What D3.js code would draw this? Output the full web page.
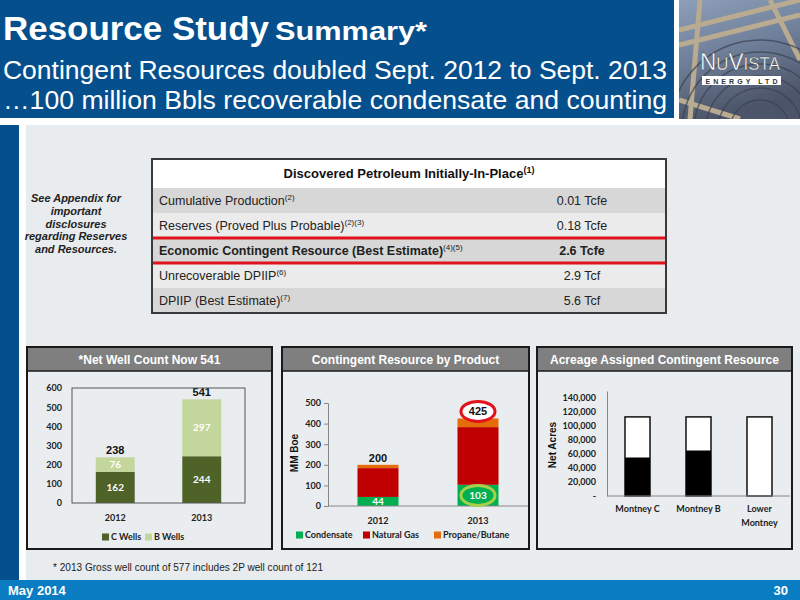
<!DOCTYPE html>
<html><head><meta charset="utf-8">
<script src="https://cdn.jsdelivr.net/npm/d3@7/dist/d3.min.js"></script>
<style>body{margin:0;padding:0;overflow:hidden;background:#fff} svg{display:block}</style>
</head><body><svg id="c" width="800" height="600"></svg>
<script>
// ---------- data ----------
const years = ["2012", "2013"];
const cWells = [162, 244];
const bWells = [76, 297];
const wellTotals = [238, 541];
const wellTicks = [0, 100, 200, 300, 400, 500, 600];

const productNames = ["Condensate", "Natural Gas", "Propane/Butane"];
const condensate = [44, 103];
const naturalGas = [140, 280];
const propaneButane = [16, 42];
const productTotals = [200, 425];
const productTicks = [0, 100, 200, 300, 400, 500];

const plays = ["Montney C", "Montney B", "Lower Montney"];
const playLabelLines = [["Montney C"], ["Montney B"], ["Lower", "Montney"]];
const totalAcres = [113000, 113000, 113000];
const assignedAcres = [55000, 65000, 0];
const acreTicks = [0, 20000, 40000, 60000, 80000, 100000, 120000, 140000];

const tableTitle = "Discovered Petroleum Initially-In-Place";
const tableTitleNote = "(1)";
const tableLabels = ["Cumulative Production", "Reserves (Proved Plus Probable)", "Economic Contingent Resource (Best Estimate)", "Unrecoverable DPIIP", "DPIIP (Best Estimate)"];
const tableNotes = ["(2)", "(2)(3)", "(4)(5)", "(6)", "(7)"];
const tableValues = ["0.01 Tcfe", "0.18 Tcfe", "2.6 Tcfe", "2.9 Tcf", "5.6 Tcf"];
const highlightRow = 2;

const noteLines = ["See Appendix for", "important", "disclosures", "regarding Reserves", "and Resources."];

// ---------- setup ----------
const svg = d3.select("#c");
const SANS = "'Liberation Sans', Arial, sans-serif";
const NARROW = "'Liberation Sans Narrow', 'Arial Narrow', 'Liberation Sans', sans-serif";
const CAL = "Lato, 'Open Sans', sans-serif";
const BLUE = "#064f8d";

// backgrounds
svg.append("rect").attr("x", 0).attr("y", 0).attr("width", 800).attr("height", 600).attr("fill", "#ffffff");
svg.append("rect").attr("x", 0).attr("y", 0).attr("width", 674).attr("height", 118).attr("fill", BLUE);
svg.append("rect").attr("x", 0).attr("y", 125).attr("width", 19).attr("height", 455).attr("fill", BLUE);
svg.append("rect").attr("x", 26).attr("y", 125).attr("width", 774).attr("height", 455).attr("fill", "#e8ecef");
svg.append("rect").attr("x", 0).attr("y", 580).attr("width", 800).attr("height", 20).attr("fill", "#0a7cc2");

// photo imitation
const defs = svg.append("defs");
const pg = defs.append("linearGradient").attr("id", "photo").attr("x1", 0).attr("y1", 0).attr("x2", 0.3).attr("y2", 1);
pg.append("stop").attr("offset", "0").attr("stop-color", "#8d9fba");
pg.append("stop").attr("offset", "0.5").attr("stop-color", "#6f7f99");
pg.append("stop").attr("offset", "1").attr("stop-color", "#4b5468");
const photo = svg.append("g");
photo.append("clipPath").attr("id", "pc").append("rect").attr("x", 679).attr("y", 0).attr("width", 121).attr("height", 119);
const ph = photo.append("g").attr("clip-path", "url(#pc)");
ph.append("rect").attr("x", 679).attr("y", 0).attr("width", 121).attr("height", 119).attr("fill", "url(#photo)");
[[679, 30, 800, 0], [679, 45, 800, 15], [700, 0, 690, 119], [770, 0, 800, 60], [679, 100, 740, 119]].forEach(l => {
  ph.append("line").attr("x1", l[0]).attr("y1", l[1]).attr("x2", l[2]).attr("y2", l[3]).attr("stroke", "#b9ab92").attr("stroke-width", 5);
});
for (let r = 30; r <= 90; r += 12) {
  ph.append("circle").attr("cx", 760).attr("cy", 130).attr("r", r).attr("fill", "none").attr("stroke", "#3b4050").attr("stroke-width", 1.5).attr("opacity", 0.7);
}
const logo = svg.append("text").attr("x", 740).attr("y", 70).attr("text-anchor", "middle")
  .attr("font-family", NARROW).attr("fill", "#ffffff").attr("stroke", "#333").attr("stroke-width", 0.4)
  .attr("textLength", 80).attr("lengthAdjust", "spacingAndGlyphs");
logo.append("tspan").attr("font-size", 24).text("N");
logo.append("tspan").attr("font-size", 18).text("U");
logo.append("tspan").attr("font-size", 24).text("V");
logo.append("tspan").attr("font-size", 18).text("ISTA");
svg.append("rect").attr("x", 702).attr("y", 76).attr("width", 79).attr("height", 9).attr("fill", "#ffffff");
svg.append("text").attr("x", 741.5).attr("y", 83.5).attr("text-anchor", "middle").attr("font-family", SANS)
  .attr("font-weight", "bold").attr("font-size", 7).attr("fill", "#333")
  .attr("textLength", 72).attr("lengthAdjust", "spacing").text("ENERGY LTD");

// header texts
svg.append("text").attr("x", 3).attr("y", 40).attr("font-family", SANS).attr("font-weight", "bold").attr("fill", "#fff")
  .attr("font-size", 33).attr("textLength", 266).attr("lengthAdjust", "spacingAndGlyphs").text("Resource Study");
svg.append("text").attr("x", 275).attr("y", 40).attr("font-family", SANS).attr("font-weight", "bold").attr("fill", "#fff")
  .attr("font-size", 25).attr("textLength", 152).attr("lengthAdjust", "spacingAndGlyphs").text("Summary*");
svg.append("text").attr("x", 3).attr("y", 79).attr("font-family", SANS).attr("font-size", 26).attr("fill", "#fff")
  .attr("textLength", 664).attr("lengthAdjust", "spacingAndGlyphs").text("Contingent Resources doubled Sept. 2012 to Sept. 2013");
svg.append("text").attr("x", 3).attr("y", 109).attr("font-family", SANS).attr("font-size", 26).attr("fill", "#fff")
  .attr("textLength", 664).attr("lengthAdjust", "spacingAndGlyphs").text("\u2026100 million Bbls recoverable condensate and counting");

// left note
svg.append("g").selectAll("text").data(noteLines).join("text")
  .attr("x", 76).attr("y", (d, i) => 202 + i * 12.8).attr("text-anchor", "middle")
  .attr("font-family", SANS).attr("font-size", 11).attr("font-weight", "bold").attr("font-style", "italic").attr("fill", "#222")
  .text(d => d);

// ---------- table ----------
const TX0 = 152, TX1 = 666, TY0 = 159, HEAD = 29, ROWH = 25, VALX = 582;
const tbl = svg.append("g");
tbl.append("rect").attr("x", TX0).attr("y", TY0).attr("width", TX1 - TX0).attr("height", HEAD).attr("fill", "#fff");
tbl.selectAll("rect.row").data(tableLabels).join("rect").attr("class", "row")
  .attr("x", TX0).attr("y", (d, i) => TY0 + HEAD + i * ROWH).attr("width", TX1 - TX0).attr("height", ROWH)
  .attr("fill", (d, i) => i % 2 === 0 ? "#d7d7d7" : "#ebebeb");
const th = tbl.append("text").attr("x", (TX0 + TX1) / 2).attr("y", TY0 + 19).attr("text-anchor", "middle")
  .attr("font-family", SANS).attr("font-size", 13).attr("font-weight", "bold").attr("fill", "#111");
th.append("tspan").text(tableTitle);
th.append("tspan").attr("font-size", 9).attr("dy", -5).text(tableTitleNote);
tableLabels.forEach((lab, i) => {
  const yb = TY0 + HEAD + i * ROWH + 17;
  const bold = i === highlightRow ? "bold" : "normal";
  const t = tbl.append("text").attr("x", TX0 + 7).attr("y", yb).attr("font-family", SANS).attr("font-size", 12.5)
    .attr("font-weight", bold).attr("fill", "#222");
  t.append("tspan").text(lab);
  t.append("tspan").attr("font-size", 8).attr("font-weight", "normal").attr("dy", -5).text(tableNotes[i]);
  tbl.append("text").attr("x", VALX).attr("y", yb).attr("text-anchor", "middle").attr("font-family", SANS)
    .attr("font-size", 12.5).attr("font-weight", bold).attr("fill", "#222").text(tableValues[i]);
});
[TY0 + HEAD + highlightRow * ROWH, TY0 + HEAD + (highlightRow + 1) * ROWH].forEach(y => {
  tbl.append("line").attr("x1", TX0).attr("x2", TX1).attr("y1", y).attr("y2", y).attr("stroke", "#e0131c").attr("stroke-width", 3);
});
tbl.append("rect").attr("x", TX0).attr("y", TY0).attr("width", TX1 - TX0).attr("height", HEAD + 5 * ROWH)
  .attr("fill", "none").attr("stroke", "#3a3a3a").attr("stroke-width", 2);

// ---------- panels ----------
function panel(x0, x1, title) {
  const g = svg.append("g");
  g.append("rect").attr("x", x0).attr("y", 347).attr("width", x1 - x0).attr("height", 202).attr("fill", "#e9edf0");
  g.append("rect").attr("x", x0).attr("y", 347).attr("width", x1 - x0).attr("height", 24).attr("fill", "#7f7f7f");
  g.append("line").attr("x1", x0).attr("x2", x1).attr("y1", 371).attr("y2", 371).attr("stroke", "#1a1a1a").attr("stroke-width", 1.5);
  g.append("rect").attr("x", x0).attr("y", 347).attr("width", x1 - x0).attr("height", 202).attr("fill", "none")
    .attr("stroke", "#1a1a1a").attr("stroke-width", 2);
  g.append("text").attr("x", (x0 + x1) / 2).attr("y", 363.5).attr("text-anchor", "middle").attr("font-family", SANS)
    .attr("font-size", 12).attr("font-weight", "bold").attr("fill", "#fff").text(title);
  return g;
}
panel(27, 272, "*Net Well Count Now 541");
panel(282, 529, "Contingent Resource by Product");
panel(537, 792, "Acreage Assigned Contingent Resource");

function styleTicks(g, size) {
  g.selectAll("text").attr("font-family", CAL).attr("font-size", size).attr("font-weight", "bold").attr("fill", "#222");
}

// ---------- chart 1: well count ----------
{
  const g = svg.append("g");
  const y = d3.scaleLinear().domain([0, 600]).range([503, 388]);
  const x = d3.scaleBand().domain(years).range([72, 245]);
  const bw = x.bandwidth() * 0.45;
  const rows = years.map((yr, i) => ({ year: yr, c: cWells[i], b: bWells[i] }));
  const stack = d3.stack().keys(["c", "b"])(rows);
  const colors = { c: "#4f6228", b: "#c3d69b" };
  g.selectAll("g.s").data(stack).join("g").attr("fill", d => colors[d.key])
    .selectAll("rect").data(d => d).join("rect")
    .attr("x", d => x(d.data.year) + (x.bandwidth() - bw) / 2).attr("width", bw)
    .attr("y", d => y(d[1])).attr("height", d => y(d[0]) - y(d[1]));
  stack.forEach(s => {
    g.selectAll(null).data(s).join("text")
      .attr("x", d => x(d.data.year) + x.bandwidth() / 2).attr("y", d => (y(d[0]) + y(d[1])) / 2 + 3.5)
      .attr("text-anchor", "middle").attr("font-family", CAL).attr("font-size", 10).attr("font-weight", "bold")
      .attr("fill", "#fff").text(d => d[1] - d[0]);
  });
  g.selectAll("text.tot").data(years).join("text").attr("class", "tot")
    .attr("x", d => x(d) + x.bandwidth() / 2).attr("y", (d, i) => y(wellTotals[i]) - 3)
    .attr("text-anchor", "middle").attr("font-family", SANS).attr("font-size", 11).attr("font-weight", "bold").attr("fill", "#111")
    .text((d, i) => wellTotals[i]);
  const ya = g.append("g").attr("transform", "translate(72,0)").call(d3.axisLeft(y).tickValues(wellTicks).tickSize(0).tickPadding(10));
  ya.select(".domain").remove(); styleTicks(ya, 9);
  g.append("rect").attr("x", 72).attr("y", 388).attr("width", 173).attr("height", 115).attr("fill", "none").attr("stroke", "#555").attr("stroke-width", 1);
  const xa = g.append("g").attr("transform", "translate(0,503)").call(d3.axisBottom(x).tickSize(0).tickPadding(12));
  xa.select(".domain").remove(); styleTicks(xa, 9);
  const leg = [["C Wells", colors.c, 102], ["B Wells", colors.b, 145]];
  leg.forEach(l => {
    g.append("rect").attr("x", l[2]).attr("y", 533.5).attr("width", 7).attr("height", 7).attr("fill", l[1]);
    g.append("text").attr("x", l[2] + 9).attr("y", 540).attr("font-family", CAL).attr("font-size", 9).attr("font-weight", "bold").attr("fill", "#222").text(l[0]);
  });
}

// ---------- chart 2: product ----------
{
  const g = svg.append("g");
  const y = d3.scaleLinear().domain([0, 500]).range([506, 403]);
  const x = d3.scaleBand().domain(years).range([328, 528]);
  const bw = x.bandwidth() * 0.41;
  const rows = years.map((yr, i) => ({ year: yr, Condensate: condensate[i], "Natural Gas": naturalGas[i], "Propane/Butane": propaneButane[i] }));
  const stack = d3.stack().keys(productNames)(rows);
  const colors = { "Condensate": "#00b050", "Natural Gas": "#c00000", "Propane/Butane": "#e46c0a" };
  g.selectAll("g.s").data(stack).join("g").attr("fill", d => colors[d.key])
    .selectAll("rect").data(d => d).join("rect")
    .attr("x", d => x(d.data.year) + (x.bandwidth() - bw) / 2).attr("width", bw)
    .attr("y", d => y(d[1])).attr("height", d => y(d[0]) - y(d[1]));
  const ya = g.append("g").attr("transform", "translate(328,0)").call(d3.axisLeft(y).tickValues(productTicks).tickSize(4).tickPadding(3));
  ya.select(".domain").attr("stroke", "#868686"); ya.selectAll("line").attr("stroke", "#868686"); styleTicks(ya, 9);
  g.append("line").attr("x1", 328).attr("x2", 528).attr("y1", 506).attr("y2", 506).attr("stroke", "#868686");
  const xa = g.append("g").attr("transform", "translate(0,506)").call(d3.axisBottom(x).tickSize(0).tickPadding(12));
  xa.select(".domain").remove(); styleTicks(xa, 9);
  // condensate labels
  const cond = stack[0];
  cond.forEach((d, i) => {
    const cx = x(d.data.year) + x.bandwidth() / 2, cy = (y(d[0]) + y(d[1])) / 2;
    if (i === 1) g.append("ellipse").attr("cx", cx).attr("cy", cy).attr("rx", 17).attr("ry", 10).attr("fill", "none").attr("stroke", "#a6d04a").attr("stroke-width", 3);
    g.append("text").attr("x", cx).attr("y", cy + 3.5).attr("text-anchor", "middle").attr("font-family", CAL).attr("font-size", 10)
      .attr("font-weight", "bold").attr("fill", "#fff").text(d[1] - d[0]);
  });
  years.forEach((yr, i) => {
    const cx = x(yr) + x.bandwidth() / 2, cy = y(productTotals[i]) - 7;
    if (i === 1) g.append("ellipse").attr("cx", cx).attr("cy", cy).attr("rx", 17).attr("ry", 10).attr("fill", "#fff").attr("stroke", "#e0131c").attr("stroke-width", 3);
    g.append("text").attr("x", cx).attr("y", cy + 4).attr("text-anchor", "middle").attr("font-family", SANS).attr("font-size", 11)
      .attr("font-weight", "bold").attr("fill", "#111").text(productTotals[i]);
  });
  g.append("text").attr("transform", "translate(298,453) rotate(-90)").attr("text-anchor", "middle").attr("font-family", SANS)
    .attr("font-size", 10).attr("font-weight", "bold").attr("fill", "#111").text("MM Boe");
  const lx = [296, 363, 434];
  productNames.forEach((p, i) => {
    g.append("rect").attr("x", lx[i]).attr("y", 531.5).attr("width", 7).attr("height", 7).attr("fill", colors[p]);
    g.append("text").attr("x", lx[i] + 9).attr("y", 538).attr("font-family", CAL).attr("font-size", 9).attr("font-weight", "bold").attr("fill", "#222").text(p);
  });
}

// ---------- chart 3: acreage ----------
{
  const g = svg.append("g");
  const y = d3.scaleLinear().domain([0, 150000]).range([496, 391]);
  const x = d3.scaleBand().domain(plays).range([607, 790]);
  const bw = x.bandwidth() * 0.41;
  g.selectAll("rect.tot").data(plays).join("rect").attr("class", "tot")
    .attr("x", d => x(d) + (x.bandwidth() - bw) / 2).attr("width", bw)
    .attr("y", (d, i) => y(totalAcres[i])).attr("height", (d, i) => y(0) - y(totalAcres[i]))
    .attr("fill", "#fff").attr("stroke", "#111").attr("stroke-width", 1.5);
  g.selectAll("rect.asg").data(plays).join("rect").attr("class", "asg")
    .attr("x", d => x(d) + (x.bandwidth() - bw) / 2).attr("width", bw)
    .attr("y", (d, i) => y(assignedAcres[i])).attr("height", (d, i) => y(0) - y(assignedAcres[i]))
    .attr("fill", "#000");
  const ya = g.append("g").attr("transform", "translate(607,0)")
    .call(d3.axisLeft(y).tickValues(acreTicks).tickSize(0).tickPadding(11).tickFormat(d => d === 0 ? "-" : d3.format(",")(d)));
  ya.select(".domain").attr("stroke", "#868686"); styleTicks(ya, 9);
  g.append("line").attr("x1", 607).attr("x2", 790).attr("y1", 496).attr("y2", 496).attr("stroke", "#868686");
  plays.forEach((p, i) => {
    playLabelLines[i].forEach((ln, j) => {
      g.append("text").attr("x", x(p) + x.bandwidth() / 2).attr("y", 512 + j * 14).attr("text-anchor", "middle")
        .attr("font-family", CAL).attr("font-size", 9).attr("font-weight", "bold").attr("fill", "#222").text(ln);
    });
  });
  g.append("text").attr("transform", "translate(556,445) rotate(-90)").attr("text-anchor", "middle").attr("font-family", SANS)
    .attr("font-size", 10).attr("font-weight", "bold").attr("fill", "#111").text("Net Acres");
}

// footnote and footer
svg.append("text").attr("x", 53).attr("y", 571).attr("font-family", NARROW).attr("font-size", 11.5).attr("fill", "#222")
  .attr("textLength", 270).attr("lengthAdjust", "spacingAndGlyphs")
  .text("* 2013 Gross well count  of 577 includes 2P well count of 121");
svg.append("text").attr("x", 8).attr("y", 595).attr("font-family", NARROW).attr("font-size", 13).attr("font-weight", "bold").attr("fill", "#fff").text("May 2014");
svg.append("text").attr("x", 788).attr("y", 595).attr("text-anchor", "end").attr("font-family", NARROW).attr("font-size", 13).attr("font-weight", "bold").attr("fill", "#fff").text("30");
</script>
</body></html>
